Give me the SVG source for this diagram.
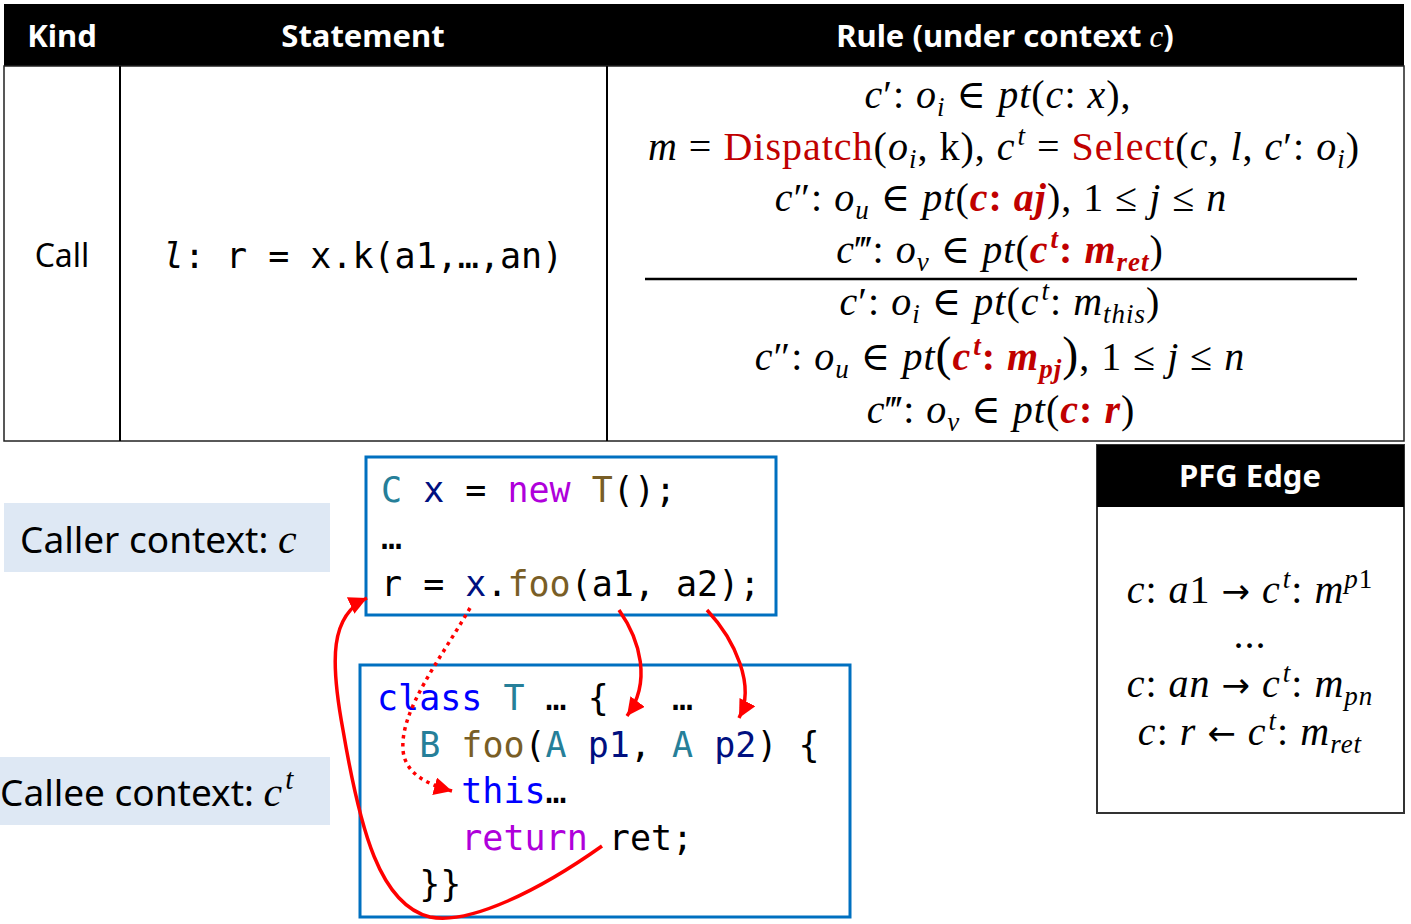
<svg xmlns="http://www.w3.org/2000/svg" width="1411" height="924" viewBox="0 0 1411 924">
<style>
.hd{font-family:"Noto Sans","Open Sans",sans-serif;font-weight:bold;font-size:31px;fill:#fff;text-anchor:middle}
.bd{font-family:"Noto Sans","Open Sans",sans-serif;font-size:32px;fill:#000}
.lbl{font-family:"Noto Sans","Open Sans",sans-serif;font-size:37px;fill:#000}
.mono{font-family:"DejaVu Sans Mono","Liberation Mono",monospace;font-size:35px;fill:#000}
.m{font-family:"Liberation Serif","DejaVu Serif",serif;font-size:40px;letter-spacing:1px;font-style:italic;fill:#000;text-anchor:middle}
.up{font-style:normal}
.r{fill:#C00000}
.b{font-weight:bold}
.s{font-size:27px}
.ar{font-family:"DejaVu Sans",sans-serif;font-style:normal;font-size:34px}
.ty{fill:#267F99}.va{fill:#001080}.kw{fill:#AF00DB}.fn{fill:#795E26}.bl{fill:#0000FF}
.code{fill:#fff;stroke:#0070C0;stroke-width:3}
.ctx{fill:#DEE8F4}
.arr{fill:none;stroke:#FF0000;stroke-width:3.5}
</style>
<defs>
<marker id="ah" markerUnits="userSpaceOnUse" markerWidth="22" markerHeight="20" refX="18" refY="9" orient="auto">
<path d="M0,0 L18,9 L0,18 z" fill="#FF0000"/>
</marker>
</defs>
<rect width="1411" height="924" fill="#fff"/>
<g id="table">
<rect x="4" y="4" width="1400" height="62" fill="#000"/>
<rect x="4" y="66" width="1400" height="375" fill="#fff" stroke="#222" stroke-width="1.5"/>
<line x1="120" y1="66" x2="120" y2="441" stroke="#000" stroke-width="2"/>
<line x1="607" y1="66" x2="607" y2="441" stroke="#000" stroke-width="2"/>
<text class="hd" x="62" y="47">Kind</text>
<text class="hd" x="363" y="47">Statement</text>
<text class="hd" x="1005" y="47">Rule (under context <tspan font-family="Liberation Serif,serif" font-style="italic" font-weight="normal">c</tspan>)</text>
<text class="bd" x="62" y="267" text-anchor="middle">Call</text>
<text class="mono" x="363" y="268" text-anchor="middle"><tspan font-style="italic">l</tspan>: r = x.k(a1,…,an)</text>
<text class="m" x="998" y="108">c<tspan class="up">′: </tspan>o<tspan class="s" dy="8">i</tspan><tspan class="up" dy="-8"> ∈ </tspan>pt<tspan class="up">(</tspan>c<tspan class="up">: </tspan>x<tspan class="up">),</tspan></text>
<text class="m" x="1004" y="160">m<tspan class="up"> = </tspan><tspan class="up r">Dispatch</tspan><tspan class="up">(</tspan>o<tspan class="s" dy="8">i</tspan><tspan class="up" dy="-8">, k), </tspan>c<tspan class="s" dy="-15" dx="2">t</tspan><tspan class="up" dy="15"> = </tspan><tspan class="up r">Select</tspan><tspan class="up">(</tspan>c<tspan class="up">, </tspan>l<tspan class="up">, </tspan>c<tspan class="up">′: </tspan>o<tspan class="s" dy="8">i</tspan><tspan class="up" dy="-8">)</tspan></text>
<text class="m" x="1001" y="211">c<tspan class="up">″: </tspan>o<tspan class="s" dy="8">u</tspan><tspan class="up" dy="-8"> ∈ </tspan>pt<tspan class="up">(</tspan><tspan class="r b">c</tspan><tspan class="up r b">: </tspan><tspan class="r b">aj</tspan><tspan class="up">), 1 ≤ </tspan>j<tspan class="up"> ≤ </tspan>n</text>
<text class="m" x="1000" y="263">c<tspan class="up">‴: </tspan>o<tspan class="s" dy="8">v</tspan><tspan class="up" dy="-8"> ∈ </tspan>pt<tspan class="up">(</tspan><tspan class="r b">c</tspan><tspan class="s r b" dy="-15" dx="2">t</tspan><tspan class="up r b" dy="15">: </tspan><tspan class="r b">m</tspan><tspan class="s r b" dy="8">ret</tspan><tspan class="up" dy="-8">)</tspan></text>
<line x1="645" y1="279" x2="1357" y2="279" stroke="#000" stroke-width="2.5"/>
<text class="m" x="1000" y="315">c<tspan class="up">′: </tspan>o<tspan class="s" dy="8">i</tspan><tspan class="up" dy="-8"> ∈ </tspan>pt<tspan class="up">(</tspan>c<tspan class="s" dy="-15" dx="2">t</tspan><tspan class="up" dy="15">: </tspan>m<tspan class="s" dy="8">this</tspan><tspan class="up" dy="-8">)</tspan></text>
<text class="m" x="1000" y="370">c<tspan class="up">″: </tspan>o<tspan class="s" dy="8">u</tspan><tspan class="up" dy="-8"> ∈ </tspan>pt<tspan class="up" font-size="48">(</tspan><tspan class="r b">c</tspan><tspan class="s r b" dy="-15" dx="2">t</tspan><tspan class="up r b" dy="15">: </tspan><tspan class="r b">m</tspan><tspan class="s r b" dy="8">pj</tspan><tspan class="up" dy="-8" font-size="48">)</tspan><tspan class="up">, 1 ≤ </tspan>j<tspan class="up"> ≤ </tspan>n</text>
<text class="m" x="1001" y="423">c<tspan class="up">‴: </tspan>o<tspan class="s" dy="8">v</tspan><tspan class="up" dy="-8"> ∈ </tspan>pt<tspan class="up">(</tspan><tspan class="r b">c</tspan><tspan class="up r b">: </tspan><tspan class="r b">r</tspan><tspan class="up">)</tspan></text>
</g>
<g id="caller-label">
<rect class="ctx" x="4" y="503" width="326" height="69"/>
<text class="lbl" x="20" y="553">Caller context: <tspan font-family="Liberation Serif,serif" font-style="italic" font-size="42">c</tspan></text>
</g>
<g id="callee-label">
<rect class="ctx" x="0" y="757" width="330" height="68"/>
<text class="lbl" x="0" y="806">Callee context: <tspan font-family="Liberation Serif,serif" font-style="italic" font-size="42">c</tspan><tspan font-family="Liberation Serif,serif" font-style="italic" font-size="29" dy="-17" dx="3">t</tspan></text>
</g>
<g id="caller-code">
<rect class="code" x="366" y="457" width="410" height="158"/>
<text class="mono" x="381" y="502"><tspan class="ty">C</tspan> <tspan class="va">x</tspan> = <tspan class="kw">new</tspan> <tspan class="fn">T</tspan>();</text>
<text class="mono" x="381" y="549">…</text>
<text class="mono" x="381" y="596">r = <tspan class="va">x</tspan>.<tspan class="fn">foo</tspan>(a1, a2);</text>
</g>
<g id="callee-code">
<rect class="code" x="360" y="665" width="490" height="252"/>
<text class="mono" x="377" y="710" xml:space="preserve"><tspan class="bl">class</tspan> <tspan class="ty">T</tspan> … {   …</text>
<text class="mono" x="377" y="757" xml:space="preserve">  <tspan class="ty">B</tspan> <tspan class="fn">foo</tspan>(<tspan class="ty">A</tspan> <tspan class="va">p1</tspan>, <tspan class="ty">A</tspan> <tspan class="va">p2</tspan>) {</text>
<text class="mono" x="377" y="803" xml:space="preserve">    <tspan class="bl">this</tspan>…</text>
<text class="mono" x="377" y="850" xml:space="preserve">    <tspan class="kw">return</tspan> ret;</text>
<text class="mono" x="377" y="896" xml:space="preserve">  }}</text>
</g>
<g id="pfg-edge">
<rect x="1097" y="445" width="307" height="368" fill="#fff" stroke="#333" stroke-width="2"/>
<rect x="1097" y="445" width="307" height="62" fill="#000"/>
<text class="hd" x="1250" y="487">PFG Edge</text>
<text class="m" x="1250" y="603">c<tspan class="up">: </tspan>a<tspan class="up">1 </tspan><tspan class="ar">→</tspan><tspan class="up"> </tspan>c<tspan class="s" dy="-15" dx="2">t</tspan><tspan class="up" dy="15">: </tspan>m<tspan class="s" dy="-15">p</tspan><tspan class="s up">1</tspan></text>
<text class="m" x="1251" y="648">...</text>
<text class="m" x="1250" y="697">c<tspan class="up">: </tspan>an<tspan class="up"> </tspan><tspan class="ar">→</tspan><tspan class="up"> </tspan>c<tspan class="s" dy="-15" dx="2">t</tspan><tspan class="up" dy="15">: </tspan>m<tspan class="s" dy="8">pn</tspan></text>
<text class="m" x="1250" y="745">c<tspan class="up">: </tspan>r<tspan class="up"> </tspan><tspan class="ar">←</tspan><tspan class="up"> </tspan>c<tspan class="s" dy="-15" dx="2">t</tspan><tspan class="up" dy="15">: </tspan>m<tspan class="s" dy="8">ret</tspan></text>
</g>
<g id="connectors">
<path class="arr" d="M619,610 C640,640 652,682 627,716" marker-end="url(#ah)"/>
<path class="arr" d="M707,610 C735,640 756,686 739,718" marker-end="url(#ah)"/>
<path class="arr" d="M470,608 C440,660 400,710 403,750 C405,775 430,785 452,791" stroke-dasharray="3.5 4.5" marker-end="url(#ah)"/>
<path class="arr" d="M602,846 C540,890 470,925 430,917 C380,905 360,830 343,730 C330,660 330,615 367,598" marker-end="url(#ah)"/>
</g>
</svg>
